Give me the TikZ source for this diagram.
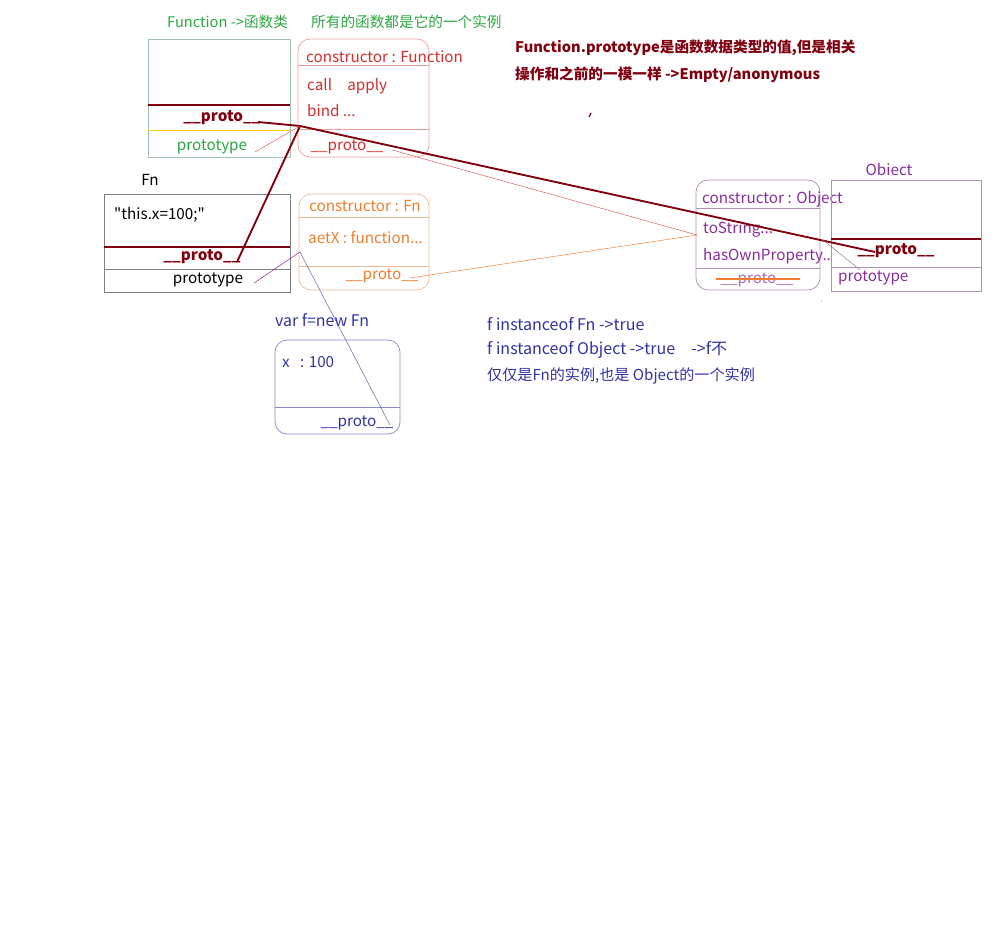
\documentclass[tikz,border=0pt]{standalone}
\usepackage{fontspec}
\setmainfont{Noto Sans CJK SC}
\newfontfamily\codefont{Noto Sans CJK SC}
\usetikzlibrary{positioning}
\definecolor{protored}{RGB}{128,0,16}
\definecolor{fngreen}{RGB}{45,165,65}
\definecolor{fnborder}{RGB}{160,195,175}
\definecolor{fpred}{RGB}{215,45,45}
\definecolor{fpborder}{RGB}{235,160,160}
\definecolor{fnorange}{RGB}{240,125,45}
\definecolor{fnoborder}{RGB}{240,185,150}
\definecolor{objpurple}{RGB}{135,45,155}
\definecolor{objborder}{RGB}{175,145,175}
\definecolor{fblue}{RGB}{50,50,165}
\definecolor{fborder}{RGB}{135,135,210}
\newcommand\latinsize{\fontsize{13pt}{15pt}\selectfont}
\newcommand\cjksize{\fontsize{12.5pt}{15pt}\selectfont}

\begin{document}
\begin{tikzpicture}[
    x=0.03cm, y=-0.03cm,
    every node/.style={font=\latinsize, inner sep=0pt},
    plainbox/.style={rectangle, draw, line width=0.6pt},
    roundbox/.style={rectangle, draw, rounded corners=0.36cm, line width=0.6pt},
    protoline/.style={draw=protored, line width=1.6pt},
    thinline/.style={line width=0.4pt},
    txt/.style={anchor=west},
    mixed/.style={anchor=west, font=\cjksize},
    boldproto/.style={font=\latinsize\bfseries, text=protored}
]
\useasboundingbox (0,0) rectangle (1000,932);

% Function
\node[mixed, text=fngreen] (fntitle) at (167,22) {Function ->函数类};
\node[mixed, text=fngreen] (fnnote) at (311,22) {所有的函数都是它的一个实例};
\node[plainbox, draw=fnborder, minimum width=4.26cm, minimum height=3.54cm] (fnc) at (219,98) {};
\draw[protored, line width=1.2pt] (fnc.west |- 0,105) -- (fnc.east |- 0,105);
\draw[yellow!70!orange, thinline] (fnc.west |- 0,130) -- (fnc.east |- 0,130);
\node[boldproto] (fncproto) at (222,118) {\_\_proto\_\_};
\node[text=fngreen] (fncprot) at (212,147) {prototype};

% Function.prototype
\node[roundbox, draw=fpborder, minimum width=3.93cm, minimum height=3.54cm] (fp) at (363.5,98) {};
\draw[fpborder] (fp.west |- 0,65) -- (fp.east |- 0,65);
\draw[fpborder] (fp.west |- 0,129) -- (fp.east |- 0,129);
\node[txt, text=fpred] (fpcons) at (306,57) {constructor : Function};
\node[txt, text=fpred] (fpcall) at (307,86) {call\quad apply};
\node[txt, text=fpred] (fpbind) at (307,111) {bind ...};
\node[text=fpred] (fpproto) at (347,147) {\_\_proto\_\_};

\node[mixed, font=\cjksize\bfseries, text=protored] (note1) at (515,48) {Function.prototype是函数数据类型的值,但是相关};
\node[mixed, font=\cjksize\bfseries, text=protored] (note2) at (515,75) {操作和之前的一模一样 ->Empty/anonymous};
\draw[protored, line width=1pt] (589,117) -- (591,113);

% Fn
\node (fnlabel) at (150,180) {Fn};
\node[plainbox, draw=gray, minimum width=5.58cm, minimum height=2.94cm] (fn) at (197,243) {};
\draw[protored, line width=1.2pt] (fn.west |- 0,247) -- (fn.east |- 0,247);
\draw[gray, thinline] (fn.west |- 0,269) -- (fn.east |- 0,269);
\node[txt] (fnbody) at (114,215) {\codefont "this.x=100;"};
\node[boldproto] (fnproto) at (202,257) {\_\_proto\_\_};
\node (fnprot) at (208,280) {prototype};

% Fn.prototype
\node[roundbox, draw=fnoborder, minimum width=3.9cm, minimum height=2.88cm] (fnp) at (364,242) {};
\draw[fnoborder] (fnp.west |- 0,217) -- (fnp.east |- 0,217);
\draw[fnoborder] (fnp.west |- 0,266) -- (fnp.east |- 0,266);
\node[txt, text=fnorange] (fnpcons) at (309,206) {constructor : Fn};
\node[txt, text=fnorange] (fnpget) at (308,237) {aetX : function...};
\node[text=fnorange] (fnpproto) at (382,276) {\_\_proto\_\_};

% Object.prototype
\node[roundbox, draw=objborder, minimum width=3.72cm, minimum height=3.3cm] (op) at (758,235) {};
\draw[objborder] (op.west |- 0,208) -- (op.east |- 0,208);
\draw[objborder] (op.west |- 0,268) -- (op.east |- 0,268);
\node[txt, text=objpurple] (opcons) at (702,199) {constructor : Object};
\node[txt, text=objpurple] (opstr) at (703,230) {toString...};
\node[txt, text=objpurple] (ophas) at (703,256) {hasOwnProperty..};
\node[text=objpurple!70] (opproto) at (757,280) {\_\_proto\_\_};
\draw[fnorange, line width=1.2pt] (716,279) -- (800,279);

% Object
\node[text=objpurple] (objlabel) at (889,170) {Obiect};
\node[plainbox, draw=objborder, minimum width=4.5cm, minimum height=3.33cm] (obj) at (906,235.5) {};
\draw[protored, line width=1.2pt] (obj.west |- 0,239) -- (obj.east |- 0,239);
\draw[objborder] (obj.west |- 0,267) -- (obj.east |- 0,267);
\node[boldproto] (objproto) at (896,251) {\_\_proto\_\_};
\node[txt, text=objpurple] (objprot) at (838,278) {prototype};
\fill[gray] (822,301) circle (0.6);

% f
\node[txt, text=fblue, font=\fontsize{13.6pt}{15pt}\selectfont] (flabel) at (275,320) {var f=new Fn};
\node[roundbox, draw=fborder, minimum width=3.75cm, minimum height=2.82cm] (f) at (337.5,387) {};
\draw[fborder] (f.west |- 0,407) -- (f.east |- 0,407);
\node[txt, text=fblue] (fx) at (282,362) {x\ \ \ : 100};
\node[text=fblue] (fproto) at (357,423) {\_\_proto\_\_};

\node[txt, text=fblue, font=\fontsize{13.7pt}{15pt}\selectfont] (inst1) at (487,324) {f instanceof Fn ->true};
\node[txt, text=fblue, font=\fontsize{13.7pt}{15pt}\selectfont] (inst2) at (487,350) {f instanceof Object ->true\quad ->f不};
\node[txt, text=fblue, font=\fontsize{12.9pt}{15pt}\selectfont] (inst3) at (487,376) {仅仅是Fn的实例,也是 Object的一个实例};

% links
\coordinate (fpjoin) at (300,126);
\coordinate (fnpjoin) at (300,252);
\coordinate (opjoin) at (697,235);
\coordinate (opedge) at (823,240);
\coordinate (fncend) at (258,122);
\coordinate (fnend) at (237,262);
\coordinate (objend) at (875,252);
\coordinate (fncprotend) at (255,152);
\coordinate (fnprotend) at (254,283);
\coordinate (fpprotoend) at (392,150);
\coordinate (fnpprotoend) at (410,278);
\coordinate (fprotoend) at (390,425);
\coordinate (objprotend) at (860,270);

\draw[protoline] (fncend) -- (fpjoin);
\draw[protoline] (fnend) -- (fpjoin);
\draw[protoline] (objend) -- (fpjoin);
\draw[fpred!80, thinline] (fncprotend) -- (fpjoin);
\draw[fpred!80, thinline] (fpprotoend) -- (opjoin);
\draw[fnorange, thinline] (fnpprotoend) -- (opjoin);
\draw[fpred!60!blue, thinline] (fnprotend) -- (fnpjoin);
\draw[fblue!80, thinline] (fnpjoin) -- (fprotoend);
\draw[gray, thinline] (objprotend) -- (opedge);
\end{tikzpicture}
\end{document}
